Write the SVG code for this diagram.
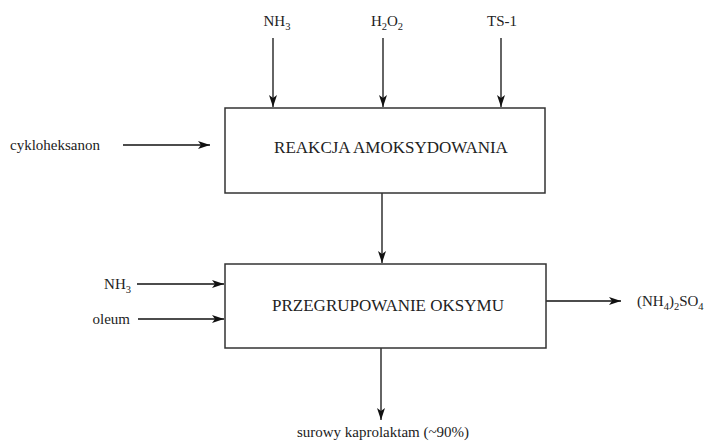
<svg xmlns="http://www.w3.org/2000/svg" width="714" height="442" viewBox="0 0 714 442">
  <style>
    .box { fill: #fff; stroke: #333; stroke-width: 1.5; }
    .flow { stroke: #111; stroke-width: 1.3; fill: none; marker-end: url(#head); }
    .sub { font-size: 10.5px; }
  </style>
  <defs>
    <marker id="head" markerWidth="12" markerHeight="8" refX="12" refY="4" orient="auto" markerUnits="userSpaceOnUse">
      <path d="M0,0 L12,4 L0,8 L3,4 Z" fill="#111"/>
    </marker>
  </defs>

  <rect width="714" height="442" fill="#fff"/>

  <g id="connectors">
    <line class="flow" x1="273" y1="38" x2="273" y2="107"/>
    <line class="flow" x1="383" y1="38" x2="383" y2="107"/>
    <line class="flow" x1="501" y1="38" x2="501" y2="107"/>
    <line class="flow" x1="123" y1="145" x2="210" y2="145"/>
    <line class="flow" x1="382" y1="193" x2="382" y2="263"/>
    <line class="flow" x1="137" y1="284" x2="224" y2="284"/>
    <line class="flow" x1="138" y1="319" x2="224" y2="319"/>
    <line class="flow" x1="546" y1="301" x2="621" y2="301"/>
    <line class="flow" x1="381" y1="348" x2="381" y2="420"/>
  </g>

  <g font-family="Liberation Serif, Times New Roman, serif" font-size="15" fill="#222">
    <g id="node-reakcja">
      <rect class="box" x="225" y="108" width="320" height="85"/>
      <text x="391" y="153" text-anchor="middle" font-size="17">REAKCJA AMOKSYDOWANIA</text>
    </g>

    <g id="node-przegrupowanie">
      <rect class="box" x="225" y="264" width="321" height="84"/>
      <text x="388" y="311" text-anchor="middle" font-size="17">PRZEGRUPOWANIE OKSYMU</text>
    </g>

    <g id="label-nh3-top">
      <text x="277" y="26" text-anchor="middle">NH<tspan class="sub" dy="4">3</tspan></text>
    </g>
    <g id="label-h2o2">
      <text x="387" y="26" text-anchor="middle">H<tspan class="sub" dy="4">2</tspan><tspan dy="-4">O</tspan><tspan class="sub" dy="4">2</tspan></text>
    </g>
    <g id="label-ts1">
      <text x="502" y="26" text-anchor="middle">TS-1</text>
    </g>
    <g id="label-cykloheksanon">
      <text x="10" y="150">cykloheksanon</text>
    </g>
    <g id="label-nh3-left">
      <text x="131" y="289" text-anchor="end">NH<tspan class="sub" dy="4">3</tspan></text>
    </g>
    <g id="label-oleum">
      <text x="130" y="324" text-anchor="end">oleum</text>
    </g>
    <g id="label-siarczan">
      <text x="637" y="306">(NH<tspan class="sub" dy="4">4</tspan><tspan dy="-4">)</tspan><tspan class="sub" dy="4">2</tspan><tspan dy="-4">SO</tspan><tspan class="sub" dy="4">4</tspan></text>
    </g>
    <g id="label-kaprolaktam">
      <text x="383" y="437" text-anchor="middle">surowy kaprolaktam (~90%)</text>
    </g>
  </g>
</svg>
